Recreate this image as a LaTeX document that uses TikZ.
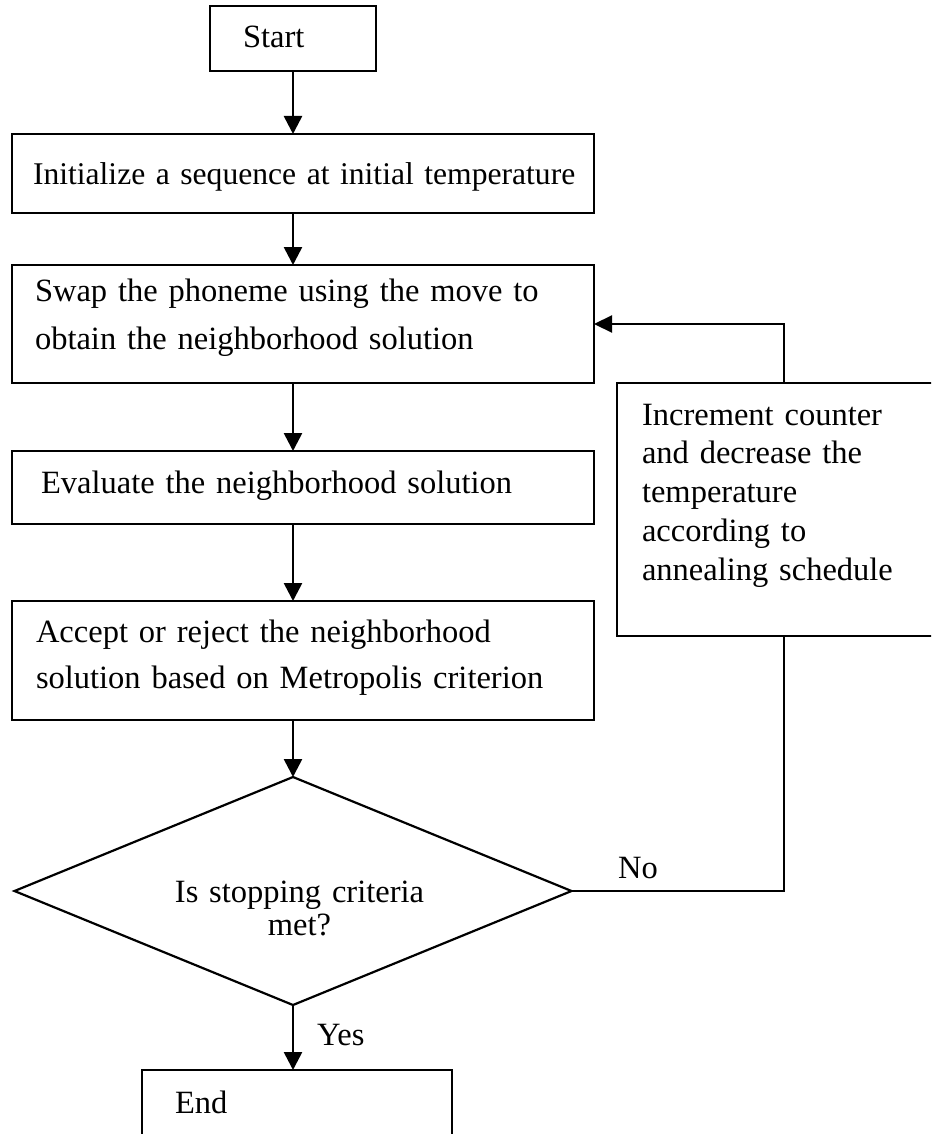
\documentclass[tikz,border=0pt]{standalone}
\usepackage{fontspec}
\setmainfont{Liberation Serif}
\usetikzlibrary{shapes.geometric,arrows.meta}
\newcommand\myfs[2]{\fontsize{#1}{#2}\selectfont}
\begin{document}
\begin{tikzpicture}[x=1pt,y=-1pt,
  box/.style={draw, line width=2.2pt, rectangle, anchor=north west, inner ysep=0pt, outer sep=0pt, align=left},
  flow/.style={line width=2.6pt, -{Triangle[length=18pt,width=18pt]}},
  link/.style={line width=2.2pt},
  lbl/.style={inner sep=0pt, anchor=base west, font=\myfs{32.5}{38}}]
\useasboundingbox (0,0) rectangle (931,1134);
\clip (0,0) rectangle (931,1134);

\node[box, inner xsep=33pt, text width=100pt, text height=42pt, text depth=23pt,
  font=\myfs{32.5}{38}] (start) at (210,6) {Start};
\node[box, inner xsep=21pt, text width=540pt, text height=51pt, text depth=28pt,
  font=\myfs{31.6}{38}] (init) at (12,134) {\mbox{Initialize a sequence at initial temperature}};
\node[box, inner xsep=23pt, text width=536pt, text height=36pt, text depth=82pt,
  font=\myfs{32.5}{48}] (swap) at (12,265) {Swap the phoneme using the move to\\obtain the neighborhood solution};
\node[box, inner xsep=29pt, text width=524pt, text height=42pt, text depth=31pt,
  font=\myfs{32.5}{38}] (eval) at (12,451) {Evaluate the neighborhood solution};
\node[box, inner xsep=24pt, text width=534pt, text height=41pt, text depth=78pt,
  font=\myfs{32.5}{46}] (accept) at (12,601) {Accept or reject the neighborhood\\solution based on Metropolis criterion};
\node[box, inner xsep=25pt, text width=284pt, text height=42pt, text depth=211pt,
  font=\myfs{32.5}{38.75}] (inc) at (617,383) {Increment counter\\and decrease the\\temperature\\according to\\annealing schedule};
\node[draw, diamond, line width=2.2pt, outer sep=0pt, inner sep=0pt, aspect=2.44,
  minimum width=557pt, minimum height=228pt, text width=300pt, align=center,
  text height=40pt, text depth=18pt, font=\myfs{32.5}{33}] (dia) at (293,891)
  {\hspace*{13pt}Is stopping criteria\\\hspace*{13pt}met?};
\node[box, inner xsep=33pt, text width=244pt, text height=43pt, text depth=37pt,
  font=\myfs{32.5}{38}] (end) at (142,1070) {End};

\draw[flow] (start.south) -- (start.south |- init.north);
\draw[flow] (start.south |- init.south) -- (start.south |- swap.north);
\draw[flow] (start.south |- swap.south) -- (start.south |- eval.north);
\draw[flow] (start.south |- eval.south) -- (start.south |- accept.north);
\draw[flow] (start.south |- accept.south) -- (dia.north);
\draw[flow] (dia.south) -- (dia.south |- end.north);
\draw[link, -{Triangle[length=18pt,width=17pt]}] (inc.north) |- (swap.east);
\draw[link] (dia.east) -| (inc.south);

\node[lbl] (no) at (618,878) {No};
\node[lbl] (yes) at (317,1045) {Yes};
\end{tikzpicture}
\end{document}
